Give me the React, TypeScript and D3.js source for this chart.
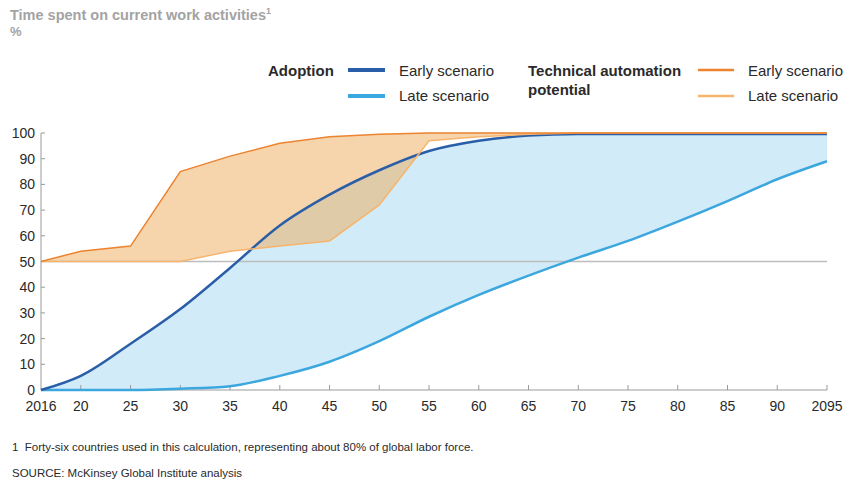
import React from "react";
import * as d3 from "d3";

const years = [2016, 2020, 2025, 2030, 2035, 2040, 2045, 2050, 2055, 2060, 2065, 2070, 2075, 2080, 2085, 2090, 2095];
const adoptionEarly = [0, 5.5, 18, 31.5, 47.5, 64, 76, 85.5, 93, 97, 99, 99.6, 99.6, 99.6, 99.6, 99.6, 99.6];
const adoptionLate = [0, 0, 0, 0.5, 1.5, 5.5, 11, 19, 28.5, 37, 44.5, 51.5, 58, 65.5, 73.5, 82, 89];
const automationEarly = [50, 54, 56, 85, 91, 96, 98.5, 99.5, 100, 100, 100, 100, 100, 100, 100, 100, 100];
const automationLate = [50, 50, 50, 50, 54, 56, 58, 72, 97, 98.5, 99.5, 100, 100, 100, 100, 100, 100];
const xTickLabels = ["2016", "20", "25", "30", "35", "40", "45", "50", "55", "60", "65", "70", "75", "80", "85", "90", "2095"];
const yTicks = [0, 10, 20, 30, 40, 50, 60, 70, 80, 90, 100];

const FONT = "'Liberation Sans', Arial, sans-serif";

export default function App() {
  const x = d3.scaleLinear().domain([2016, 2095]).range([41, 827]);
  const y = d3.scaleLinear().domain([0, 100]).range([390, 133]);

  const idx = years.map((_, i) => i);
  const blueArea = d3
    .area<number>()
    .x((i) => x(years[i]))
    .y0((i) => y(adoptionLate[i]))
    .y1((i) => y(adoptionEarly[i]))
    .curve(d3.curveMonotoneX);
  const orangeArea = d3
    .area<number>()
    .x((i) => x(years[i]))
    .y0((i) => y(automationLate[i]))
    .y1((i) => y(automationEarly[i]));
  const smooth = (vals: number[]) =>
    d3
      .line<number>()
      .x((i) => x(years[i]))
      .y((i) => y(vals[i]))
      .curve(d3.curveMonotoneX)(idx) as string;
  const straight = (vals: number[]) =>
    d3
      .line<number>()
      .x((i) => x(years[i]))
      .y((i) => y(vals[i]))(idx) as string;

  const axisColor = "#9a9a9a";
  const textColor = "#2a2a2a";

  return (
    <svg
      width={848}
      height={486}
      style={{ position: "absolute", left: 0, top: 0, background: "#fff" }}
      fontFamily={FONT}
    >
      {/* Title */}
      <text x={10} y={20} fontSize={14.5} fontWeight="bold" fill="#a3a3a3">
        Time spent on current work activities
        <tspan fontSize={9} dy={-6}>1</tspan>
      </text>
      <text x={10} y={36} fontSize={13} fontWeight="bold" fill="#a3a3a3">
        %
      </text>

      {/* Legend */}
      <g fontSize={15} fill={textColor}>
        <text x={268} y={76} fontWeight="bold">Adoption</text>
        <line x1={348} x2={385} y1={70} y2={70} stroke="#2b5ea8" strokeWidth={4} />
        <text x={399} y={76}>Early scenario</text>
        <line x1={348} x2={385} y1={96} y2={96} stroke="#3ca6de" strokeWidth={4} />
        <text x={399} y={101}>Late scenario</text>
        <text x={528} y={76} fontWeight="bold">Technical automation</text>
        <text x={528} y={95} fontWeight="bold">potential</text>
        <line x1={698} x2={734} y1={70} y2={70} stroke="#ec832f" strokeWidth={2.5} />
        <text x={748} y={76}>Early scenario</text>
        <line x1={698} x2={734} y1={96} y2={96} stroke="#f7b46c" strokeWidth={2.5} />
        <text x={748} y={101}>Late scenario</text>
      </g>

      {/* Areas */}
      <path d={blueArea(idx) as string} fill="#d1ebf8" />
      <path d={orangeArea(idx) as string} fill="#efab5a" fillOpacity={0.5} />

      {/* Reference line at 50 */}
      <line x1={x(2016)} x2={x(2095)} y1={y(50)} y2={y(50)} stroke="#bdbdbd" strokeWidth={1.5} />

      {/* Axes */}
      <line x1={x(2016)} x2={x(2016)} y1={y(0)} y2={y(100)} stroke={axisColor} strokeWidth={1} />
      <line x1={x(2016)} x2={x(2095)} y1={y(0)} y2={y(0)} stroke={axisColor} strokeWidth={1} />
      {yTicks.map((t) => (
        <g key={"y" + t}>
          <line x1={x(2016)} x2={x(2016) + 4} y1={y(t)} y2={y(t)} stroke={axisColor} />
          <text x={35} y={y(t) + 5} fontSize={14} textAnchor="end" fill={textColor}>
            {t}
          </text>
        </g>
      ))}
      {years.map((yr, i) => (
        <g key={"x" + yr}>
          {i > 0 && <line x1={x(yr)} x2={x(yr)} y1={y(0)} y2={y(0) - 5} stroke={axisColor} />}
          <text x={x(yr)} y={411} fontSize={14} textAnchor="middle" fill={textColor}>
            {xTickLabels[i]}
          </text>
        </g>
      ))}

      {/* Lines */}
      <path d={smooth(adoptionLate)} fill="none" stroke="#3ca6de" strokeWidth={2.5} />
      <path d={smooth(adoptionEarly)} fill="none" stroke="#2b5ea8" strokeWidth={2.5} />
      <path d={straight(automationLate)} fill="none" stroke="#f7b46c" strokeWidth={1.5} />
      <path d={straight(automationEarly)} fill="none" stroke="#ec832f" strokeWidth={1.5} />

      {/* Footnotes */}
      <text x={12} y={451} fontSize={11.5} fill={textColor}>
        1{"\u00a0\u00a0"}Forty-six countries used in this calculation, representing about 80% of global labor force.
      </text>
      <text x={12} y={477} fontSize={11.5} fill={textColor}>
        SOURCE: McKinsey Global Institute analysis
      </text>
    </svg>
  );
}
